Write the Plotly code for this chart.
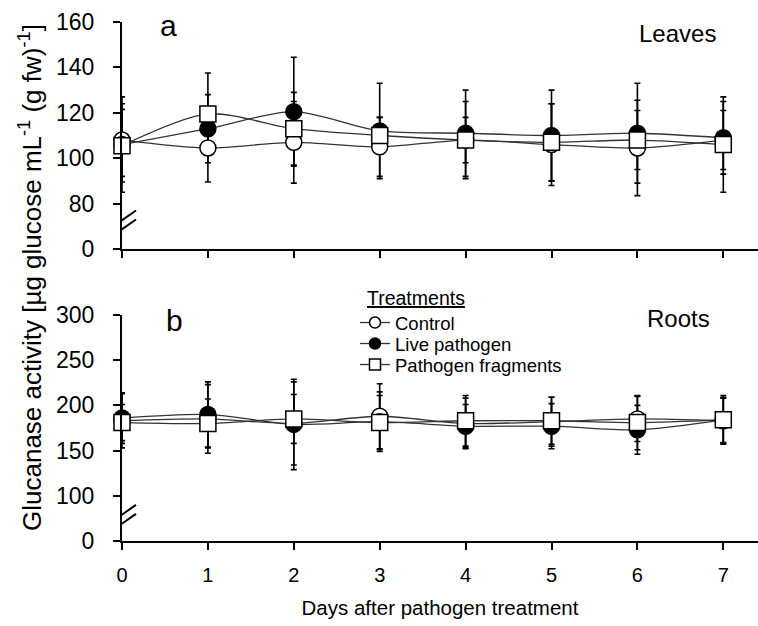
import plotly.graph_objects as go

# ---------------- data ----------------
days = [0, 1, 2, 3, 4, 5, 6, 7]
series_names = ["Control", "Live pathogen", "Pathogen fragments"]

leaves_control = [108, 104.5, 107, 105, 108, 106, 104.5, 108]
leaves_live = [106, 113, 120.5, 112, 111, 110, 111, 109]
leaves_frag = [105.5, 119.5, 113, 110, 108, 107, 108, 106]
leaves_control_err = [16, 15, 18, 13, 10, 18, 21, 13]
leaves_live_err = [21, 15, 24, 21, 19, 20, 22, 16]
leaves_frag_err = [16, 18, 16, 8, 17, 17, 13, 21]

roots_control = [183, 185, 180, 188, 180, 182, 185, 183]
roots_live = [186, 190, 179, 182, 177, 177, 173, 184]
roots_frag = [181, 180, 185, 181, 183, 183, 181, 184]
roots_control_err = [30, 38, 46, 36, 28, 27, 25, 25]
roots_live_err = [28, 36, 50, 33, 24, 25, 27, 27]
roots_frag_err = [20, 27, 27, 30, 28, 26, 30, 25]

leaves_ticks = [0, 80, 100, 120, 140, 160]
roots_ticks = [0, 100, 150, 200, 250, 300]
# broken axis: "0" is drawn at one tick step below the first shown tick
leaves_break_pos = 60
roots_break_pos = 50

W, H = 758, 626
ML, MR, MT, MB = 122, 0, 22, 85
PW, PH = W - ML - MR, H - MT - MB


def px(x):
    return (x - ML) / PW


def py(y):
    return (H - MB - y) / PH


styles = [
    dict(symbol="circle", color="white"),
    dict(symbol="circle", color="black"),
    dict(symbol="square", color="white"),
]
legend_ids = ["legend", "legend2", "legend3"]
legend_rows = [323, 344, 365]

ARIAL = "Liberation Sans, Arial, sans-serif"
LINE = dict(color="#333333", width=1.3, shape="spline", smoothing=0.8)

fig = go.Figure()

panels = [
    ("x", "y", [leaves_control, leaves_live, leaves_frag],
     [leaves_control_err, leaves_live_err, leaves_frag_err]),
    ("x2", "y2", [roots_control, roots_live, roots_frag],
     [roots_control_err, roots_live_err, roots_frag_err]),
]

for xa, ya, vals, errs in panels:
    # error bars first (behind all markers)
    for v, e in zip(vals, errs):
        fig.add_trace(go.Scatter(
            x=days, y=v, xaxis=xa, yaxis=ya, mode="markers",
            marker=dict(size=1, opacity=0), showlegend=False, hoverinfo="skip",
            error_y=dict(type="data", array=e, visible=True, color="black",
                         thickness=1.6, width=3),
            cliponaxis=False,
        ))
    for name, v, st in zip(series_names, vals, styles):
        fig.add_trace(go.Scatter(
            x=days, y=v, xaxis=xa, yaxis=ya, mode="lines+markers",
            name=name, showlegend=False,
            line=LINE,
            marker=dict(symbol=st["symbol"], size=16, color=st["color"],
                        line=dict(color="black", width=1.5)),
            cliponaxis=False,
        ))

# legend-only entries (smaller symbols, as in the reference key)
for name, st, lid in zip(series_names, styles, legend_ids):
    fig.add_trace(go.Scatter(
        x=[None], y=[None], xaxis="x2", yaxis="y2", mode="lines+markers",
        name=name, legend=lid, showlegend=True,
        line=dict(color="#333333", width=1.3),
        marker=dict(symbol=st["symbol"], size=11, color=st["color"],
                    line=dict(color="black", width=1.5)),
    ))

axis_common = dict(
    showline=True, linecolor="black", linewidth=2, ticks="outside",
    ticklen=7, tickwidth=2, tickcolor="black", showgrid=False, zeroline=False,
)

top_dom = [py(249), 1.0]
bot_dom = [0.0, py(315)]
xmax = (W - ML) / 85.9

legend_common = dict(
    xanchor="left", yanchor="middle", bgcolor="rgba(0,0,0,0)", borderwidth=0,
    font=dict(family=ARIAL, size=18.5, color="black"),
    itemwidth=30,
)
legends = {}
for lid, row in zip(legend_ids, legend_rows):
    legends[lid] = dict(**legend_common, x=px(355), y=py(row))

fig.update_layout(
    width=W, height=H,
    margin=dict(l=ML, r=MR, t=MT, b=MB, autoexpand=False),
    plot_bgcolor="white", paper_bgcolor="white",
    xaxis=dict(**axis_common, range=[0, xmax], anchor="y", domain=[0, 1],
               tickvals=days, showticklabels=False),
    xaxis2=dict(**axis_common, range=[0, xmax], anchor="y2", domain=[0, 1],
                tickvals=days, ticktext=[str(d) for d in days],
                tickfont=dict(family=ARIAL, size=20, color="black"),
                ticklabelstandoff=8,
                title=dict(text="Days after pathogen treatment",
                           font=dict(family=ARIAL, size=20.5, color="black"),
                           standoff=16)),
    yaxis=dict(**axis_common, domain=top_dom, anchor="x",
               range=[leaves_break_pos, 160],
               tickvals=[leaves_break_pos] + leaves_ticks[1:],
               ticktext=[str(t) for t in leaves_ticks],
               ticklabelstandoff=14,
               tickfont=dict(family=ARIAL, size=23, color="black")),
    yaxis2=dict(**axis_common, domain=bot_dom, anchor="x2",
                range=[roots_break_pos, 300],
                tickvals=[roots_break_pos] + roots_ticks[1:],
                ticktext=[str(t) for t in roots_ticks],
                ticklabelstandoff=14,
                tickfont=dict(family=ARIAL, size=23, color="black")),
    showlegend=True,
    **legends,
)

fig.add_annotation(x=px(30), y=py(278), xref="paper", yref="paper",
                   text="Glucanase activity [µg glucose mL<sup>-1</sup> (g fw)<sup>-1</sup>]",
                   textangle=-90, showarrow=False, xanchor="center", yanchor="middle",
                   font=dict(family=ARIAL, color="black", size=26))
fig.add_annotation(x=px(365), y=py(298), xref="paper", yref="paper",
                   text="<u>Treatments</u>", showarrow=False,
                   xanchor="left", yanchor="middle",
                   font=dict(family=ARIAL, color="black", size=19.5))
for txt, x, y, s in [("a", 168, 26, 30), ("b", 174, 320, 30),
                     ("Leaves", 677, 34, 24), ("Roots", 678, 318, 24)]:
    fig.add_annotation(x=px(x), y=py(y), xref="paper", yref="paper", text=txt,
                       showarrow=False, xanchor="center", yanchor="middle",
                       font=dict(family=ARIAL, color="black", size=s))

# axis-break marks "//"
for xr, yr, yc in [("x", "y", 71), ("x2", "y2", 75)]:
    for off in (-4.5, 4.5):
        fig.add_shape(type="line", xref=xr, yref=yr,
                      xsizemode="pixel", xanchor=0, x0=-12, x1=14,
                      ysizemode="pixel", yanchor=yc, y0=-9 - off, y1=9 - off,
                      line=dict(color="black", width=2))

fig.write_html("out.html", config={"displayModeBar": False},
               post_script="document.body.style.margin='0px';")
